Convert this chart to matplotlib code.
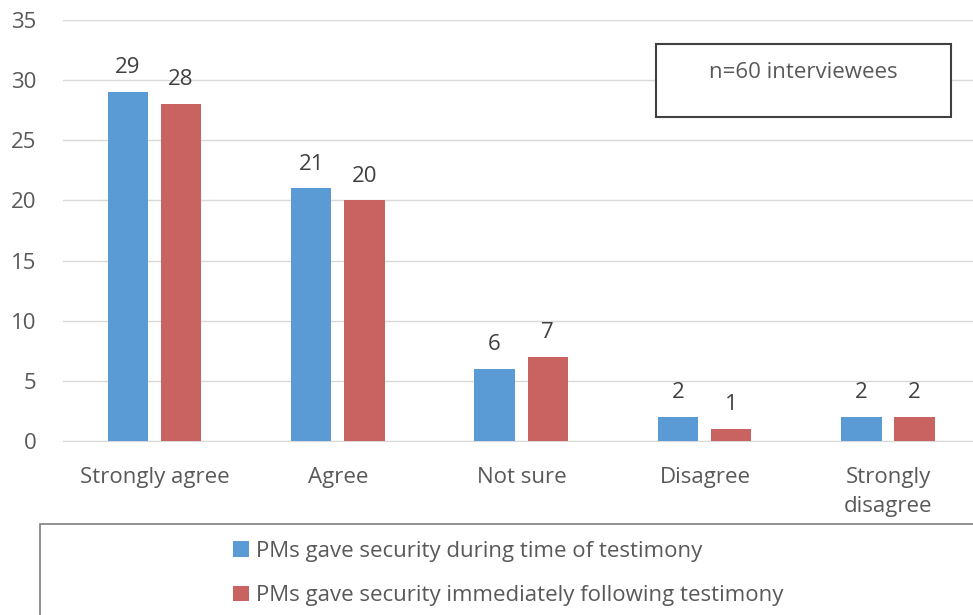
import matplotlib.pyplot as plt
from matplotlib.patches import Rectangle
import numpy as np

categories = ['Strongly agree', 'Agree', 'Not sure', 'Disagree', 'Strongly\ndisagree']
during = [29, 21, 6, 2, 2]
following = [28, 20, 7, 1, 2]
series_names = ['PMs gave security during time of testimony',
                'PMs gave security immediately following testimony']

plt.rcParams['font.family'] = ['Open Sans', 'DejaVu Sans']
text_color = '#595959'
fs = 16

fig = plt.figure(figsize=(9.73, 6.15), dpi=100)
ax = fig.add_axes([63 / 973, 1 - 441 / 615, (980 - 63) / 973, (441 - 20) / 615])

x = np.arange(len(categories))
w = 0.22
b1 = ax.bar(x - 0.147, during, w, color='#5B9BD5', label=series_names[0], zorder=3)
b2 = ax.bar(x + 0.143, following, w, color='#C96361', label=series_names[1], zorder=3)
ax.bar_label(b1, padding=10, fontsize=fs, color='#404040')
ax.bar_label(b2, padding=10, fontsize=fs, color='#404040')

ax.set_xlim(-0.5, len(categories) - 0.5)
ax.set_ylim(0, 35)
ax.set_yticks(range(0, 36, 5))
ax.set_xticks(x)
ax.set_xticklabels(categories, linespacing=1.45)
ax.tick_params(axis='both', length=0, labelsize=fs, colors=text_color)
ax.tick_params(axis='x', pad=19)
ax.tick_params(axis='y', pad=19)
ax.grid(axis='y', color='#D9D9D9', linewidth=1, zorder=0)
for s in ['top', 'right', 'left']:
    ax.spines[s].set_visible(False)
ax.spines['bottom'].set_color('#D9D9D9')

# n box
fig.add_artist(Rectangle((656 / 973, 1 - 117 / 615), (951 - 656) / 973, 73 / 615,
                         transform=fig.transFigure, facecolor='white',
                         edgecolor='#404040', linewidth=1.5, zorder=5))
fig.text(803 / 973, 1 - 72 / 615, 'n=60 interviewees', fontsize=fs, color=text_color,
         ha='center', va='center', zorder=6)

# legend frame
fig.add_artist(Rectangle((40 / 973, -0.1), 1.0, 1 - 524 / 615 + 0.1, transform=fig.transFigure,
                         facecolor='none', edgecolor='#7F7F7F', linewidth=1.2))
fig.legend(handles=[b1, b2], loc='upper left', bbox_to_anchor=(213 / 973, 1 - 521 / 615),
           frameon=False, fontsize=fs, labelcolor=text_color, handlelength=0.7,
           handleheight=0.7, handletextpad=0.35, labelspacing=1.05)

plt.savefig('out.png', dpi=100)
